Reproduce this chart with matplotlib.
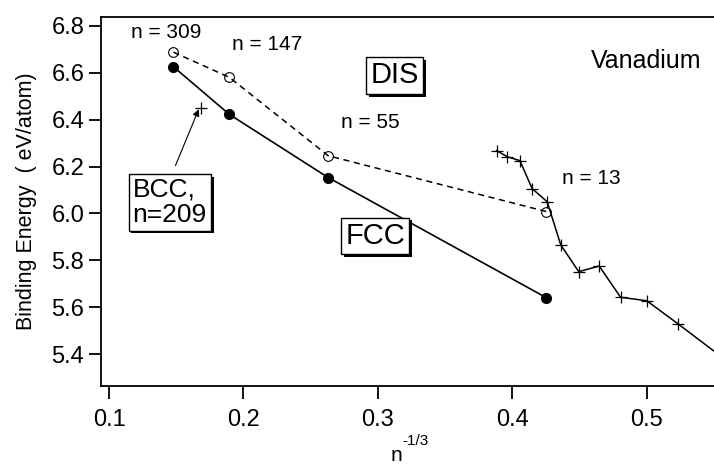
import matplotlib
matplotlib.use("Agg")
import matplotlib.pyplot as plt
import matplotlib.patheffects as pe

plt.rcParams['font.family'] = ['Liberation Sans', 'DejaVu Sans']

# FCC clusters (filled circles), n = 309, 147, 55, 13
fcc_x = [0.1479, 0.1895, 0.2630, 0.4253]
fcc_y = [6.625, 6.422, 6.153, 5.641]

# disordered clusters (open circles)
dis_x = [0.1479, 0.1895, 0.2630, 0.4253]
dis_y = [6.687, 6.580, 6.246, 6.008]

# small clusters (crosses), n = 17 ... 6
small_x = [0.3883, 0.3961, 0.4056, 0.4147, 0.4259, 0.4360, 0.4494,
           0.4646, 0.4805, 0.5000, 0.5234, 0.5600]
small_y = [6.268, 6.242, 6.225, 6.106, 6.050, 5.866, 5.752,
           5.776, 5.643, 5.628, 5.529, 5.370]

# BCC n=209
bcc_x = [0.1682]
bcc_y = [6.451]

fig = plt.figure(figsize=(7.14, 4.65), dpi=100)
ax = fig.add_axes([101 / 714, (465 - 385.5) / 465, 1 - 101 / 714, (385.5 - 17) / 465])

ax.plot(fcc_x, fcc_y, '-', color='black', lw=1.2, marker='o', ms=7, mfc='black', mec='black')
ax.plot(dis_x, dis_y, '--', color='black', lw=1.1, dashes=(4, 3), marker='o', ms=7,
        mfc='none', mec='black', mew=0.8)
ax.plot(small_x, small_y, '-', color='black', lw=1.1, marker='+', ms=9, mew=0.9)
ax.plot(bcc_x, bcc_y, linestyle='none', color='black', marker='+', ms=9, mew=0.9)

ax.set_xlim(0.094, 0.55)
ax.set_ylim(5.267, 6.837)
ax.set_xticks([0.1, 0.2, 0.3, 0.4, 0.5])
ax.set_yticks([5.4, 5.6, 5.8, 6.0, 6.2, 6.4, 6.6, 6.8])
ax.set_xticklabels(['0.1', '0.2', '0.3', '0.4', '0.5'])
ax.set_yticklabels(['5.4', '5.6', '5.8', '6.0', '6.2', '6.4', '6.6', '6.8'])

ax.spines['right'].set_visible(False)
for s in ['left', 'bottom', 'top']:
    ax.spines[s].set_linewidth(1.3)
ax.tick_params(axis='both', direction='out', length=9, width=1.3, labelsize=17)
ax.tick_params(axis='x', pad=8)
ax.tick_params(axis='y', pad=3)

ax.set_ylabel('Binding Energy  ( eV/atom)', fontsize=15.5, labelpad=10)

# x label: n with a raised "-1/3"
fig.text(391 / 714, 1 - 461 / 465, 'n', fontsize=15, ha='left', va='baseline')
fig.text(402 / 714, 1 - 441 / 465, '-1/3', fontsize=11, ha='left', va='center')

lab = dict(fontsize=15, ha='center', va='center')
ax.text(0.1422, 6.769, 'n = 309', **lab)
ax.text(0.2174, 6.718, 'n = 147', **lab)
ax.text(0.2947, 6.388, 'n = 55', **lab)
ax.text(0.4584, 6.151, 'n = 13', **lab)
ax.text(0.4997, 6.650, 'Vanadium', fontsize=18, ha='center', va='center')

shadow = [pe.SimplePatchShadow(offset=(2, -2), shadow_rgbFace='black', alpha=1), pe.Normal()]
box = dict(boxstyle='square,pad=0.15', fc='white', ec='black', lw=1.0)

t1 = ax.text(0.3123, 6.588, 'DIS', fontsize=21, ha='center', va='center', bbox=box)
t2 = ax.text(0.2980, 5.904, 'FCC', fontsize=21, ha='center', va='center', bbox=box)
t3 = ax.text(0.1175, 6.048, 'BCC,\nn=209', fontsize=19, ha='left', va='center',
             ma='left', linespacing=1.05, bbox=box)
for t in (t1, t2, t3):
    t.get_bbox_patch().set_path_effects(shadow)

ax.annotate('', xy=(0.1667, 6.444), xytext=(0.1494, 6.204),
            arrowprops=dict(arrowstyle='-|>', color='black', lw=0.8,
                            mutation_scale=10, shrinkA=0, shrinkB=0))

fig.savefig('out.png', dpi=100)
